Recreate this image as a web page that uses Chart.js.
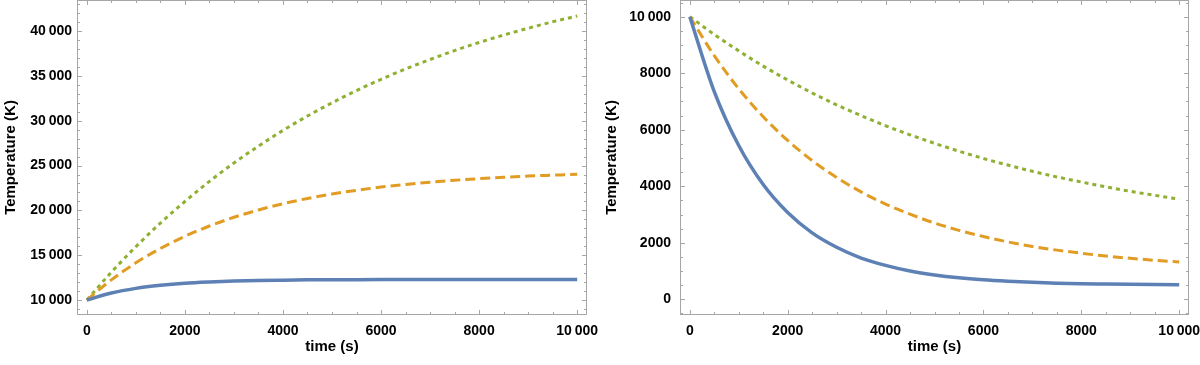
<!DOCTYPE html>
<html>
<head>
<meta charset="utf-8">
<script src="https://cdn.jsdelivr.net/npm/chart.js@4.4.0/dist/chart.umd.min.js"></script>
<style>
  body { margin: 0; background: #fff; }
  #wrap { position: relative; width: 1200px; height: 365px; }
  canvas { position: absolute; top: 0; }
</style>
</head>
<body>
<div id="wrap">
  <canvas id="heating" width="600" height="365" style="left:0"></canvas>
  <canvas id="cooling" width="600" height="365" style="left:600px"></canvas>
</div>
<script>
// time axis (s)
const time = [0, 500, 1000, 1500, 2000, 2500, 3000, 3500, 4000, 4500, 5000,
              5500, 6000, 6500, 7000, 7500, 8000, 8500, 9000, 9500, 10000];

// left panel: heating (K)
const heatSolid  = [10000, 10780, 11300, 11640, 11870, 12010, 12110, 12180, 12220, 12250, 12260,
                    12270, 12280, 12285, 12290, 12290, 12295, 12300, 12300, 12300, 12300];
const heatDashed = [10000, 12250, 14150, 15750, 17110, 18260, 19230, 20050, 20740, 21330, 21830,
                    22240, 22600, 22900, 23150, 23360, 23540, 23700, 23830, 23930, 24030];
const heatDotted = [10000, 13100, 15950, 18580, 20990, 23230, 25290, 27170, 28920, 30530, 32000,
                    33370, 34620, 35780, 36830, 37830, 38730, 39560, 40320, 41040, 41680];

// right panel: cooling (K)
const coolSolid  = [10000, 7350, 5440, 4060, 3070, 2350, 1840, 1460, 1200, 1000, 860,
                    760, 690, 640, 600, 570, 550, 540, 530, 520, 510];
const coolDashed = [10000, 8620, 7450, 6460, 5620, 4910, 4310, 3800, 3370, 3010, 2700,
                    2440, 2220, 2030, 1870, 1740, 1630, 1530, 1450, 1380, 1320];
const coolDotted = [10000, 9370, 8790, 8250, 7760, 7300, 6880, 6500, 6140, 5820, 5520,
                    5240, 4980, 4750, 4530, 4330, 4150, 3980, 3820, 3680, 3540];

// tick labels
const xTicks = [0, 2000, 4000, 6000, 8000, 10000];
const heatTicks = [10000, 15000, 20000, 25000, 30000, 35000, 40000];
const coolTicks = [0, 2000, 4000, 6000, 8000, 10000];

const BLUE = '#5e81b5', ORANGE = '#e19c24', GREEN = '#8fb032';
const FONT = 'Liberation Sans, Arial, sans-serif';

function fmt(v) {
  if (Math.abs(v) < 10000) return String(v);
  return String(v).replace(/\B(?=(\d{3})+(?!\d))/g, '\u2009');
}

// Mathematica-like frame with inward ticks on all four sides
const framePlugin = {
  id: 'frame',
  afterDraw(chart, args, opts) {
    const {ctx, chartArea: a, scales: {x, y}} = chart;
    ctx.save();
    ctx.strokeStyle = '#a6a6a6';
    ctx.lineWidth = 1;
    ctx.strokeRect(a.left + 0.5, a.top + 0.5, a.right - a.left - 1, a.bottom - a.top - 1);
    ctx.beginPath();
    const xs = opts.xMinor, ys = opts.yMinor;
    for (let v = Math.ceil(x.min / xs) * xs; v <= x.max; v += xs) {
      const len = (v % opts.xMajor === 0) ? 5 : 3;
      const px = Math.round(x.getPixelForValue(v)) + 0.5;
      ctx.moveTo(px, a.bottom); ctx.lineTo(px, a.bottom - len);
      ctx.moveTo(px, a.top); ctx.lineTo(px, a.top + len);
    }
    for (let v = Math.ceil(y.min / ys) * ys; v <= y.max; v += ys) {
      const len = (v % opts.yMajor === 0) ? 5 : 3;
      const py = Math.round(y.getPixelForValue(v)) + 0.5;
      ctx.moveTo(a.left, py); ctx.lineTo(a.left + len, py);
      ctx.moveTo(a.right, py); ctx.lineTo(a.right - len, py);
    }
    ctx.stroke();
    ctx.restore();
  }
};

function series(values, color, width, dash) {
  return {
    data: time.map((t, i) => ({x: t, y: values[i]})),
    borderColor: color,
    borderWidth: width,
    borderDash: dash,
    borderCapStyle: 'butt',
    pointRadius: 0,
    fill: false,
    cubicInterpolationMode: 'monotone'
  };
}

function noPad(s) {
  s.paddingLeft = 0; s.paddingRight = 0; s.paddingTop = 0; s.paddingBottom = 0;
}

function makeChart(id, sets, yMin, yMax, yTicks, frame, yWidth, labelPad, titlePad, rightPad) {
  return new Chart(document.getElementById(id), {
    type: 'line',
    data: {datasets: sets},
    plugins: [framePlugin],
    options: {
      responsive: false,
      animation: false,
      devicePixelRatio: 1,
      layout: {padding: {left: 0, right: rightPad, top: 0, bottom: 0}},
      plugins: {legend: {display: false}, tooltip: {enabled: false}, frame: frame},
      scales: {
        x: {
          type: 'linear', min: -200, max: 10200,
          afterBuildTicks: s => { s.ticks = xTicks.map(v => ({value: v})); },
          afterFit: s => { s.height = 50; noPad(s); },
          grid: {display: false, drawTicks: false},
          border: {display: false},
          ticks: {color: '#000', font: {family: FONT, weight: 'bold', size: 14},
                  padding: 8, maxRotation: 0, autoSkip: false, callback: v => fmt(v)},
          title: {display: true, text: 'time (s)', color: '#000',
                  font: {family: FONT, weight: 'bold', size: 15}, padding: {top: 0, bottom: 9}}
        },
        y: {
          type: 'linear', min: yMin, max: yMax,
          afterBuildTicks: s => { s.ticks = yTicks.map(v => ({value: v})); },
          afterFit: s => { s.width = yWidth; noPad(s); },
          grid: {display: false, drawTicks: false},
          border: {display: false},
          ticks: {color: '#000', font: {family: FONT, weight: 'bold', size: 14},
                  padding: labelPad, autoSkip: false, callback: v => fmt(v)},
          title: {display: true, text: 'Temperature (K)', color: '#000',
                  font: {family: FONT, weight: 'bold', size: 15}, padding: {top: titlePad, bottom: 0}}
        }
      }
    }
  });
}

makeChart('heating', [
  series(heatSolid, BLUE, 3.5, []),
  series(heatDashed, ORANGE, 3, [10, 5]),
  series(heatDotted, GREEN, 3, [4, 4])
], 8330, 43470, heatTicks, {xMinor: 500, xMajor: 2000, yMinor: 1000, yMajor: 5000}, 77, 5, 2, 13);

makeChart('cooling', [
  series(coolSolid, BLUE, 3.5, []),
  series(coolDashed, ORANGE, 3, [10, 5]),
  series(coolDotted, GREEN, 3, [4, 4])
], -556, 10590, coolTicks, {xMinor: 500, xMajor: 2000, yMinor: 500, yMajor: 2000}, 80, 9, 3, 11);
</script>
</body>
</html>
